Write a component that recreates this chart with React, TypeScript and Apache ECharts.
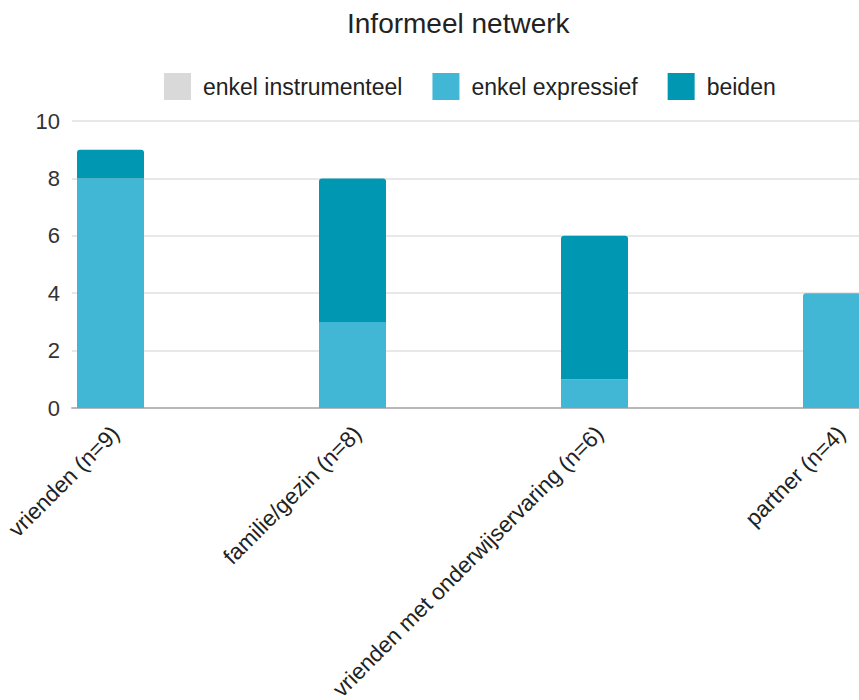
import React, { useEffect, useRef } from 'react';
import * as echarts from 'echarts';

const categories = [
  'vrienden (n=9)',
  'familie/gezin (n=8)',
  'vrienden met onderwijservaring (n=6)',
  'partner (n=4)',
];
const seriesNames = ['enkel instrumenteel', 'enkel expressief', 'beiden'];
const instrumenteel = [0, 0, 0, 0];
const expressief = [8, 3, 1, 4];
const beiden = [1, 5, 5, 0];
const yMin = 0;
const yMax = 10;
const yStep = 2;

const FONT = '"Liberation Sans", Arial, Helvetica, sans-serif';
const COLORS = ['#d9d9d9', '#42b7d5', '#0097b2'];

export default function App() {
  const ref = useRef<HTMLDivElement>(null);
  useEffect(() => {
    if (!ref.current) return;
    const chart = echarts.init(ref.current, null, { renderer: 'svg' });
    const W = 859;
    const frameLeft = 72;
    const top = 121;
    const bottom = 292;
    const band = 242;
    const firstCenter = 110.5;
    const barLeft = firstCenter - band / 2;
    const barWidthTotal = band * categories.length;
    const labelShift = 5;

    const radiusTop = [3, 3, 0, 0];
    chart.setOption({
      animation: false,
      backgroundColor: '#ffffff',
      textStyle: { fontFamily: FONT },
      title: {
        text: 'Informeel netwerk',
        left: 347,
        top: 9,
        padding: 0,
        textStyle: { fontFamily: FONT, fontSize: 28, fontWeight: 'normal', color: '#222222' },
      },
      legend: {
        data: seriesNames,
        left: 164,
        top: 73,
        padding: 0,
        icon: 'rect',
        itemWidth: 27,
        itemHeight: 27,
        itemGap: 30,
        textStyle: { fontFamily: FONT, fontSize: 23, color: '#222222', padding: [0, 0, 0, 7] },
      },
      grid: [
        { left: frameLeft, width: W - frameLeft + 2, top, bottom, outerBoundsMode: 'none', containLabel: false },
        { left: barLeft, width: barWidthTotal, top, bottom, outerBoundsMode: 'none', containLabel: false },
        { left: barLeft + labelShift, width: barWidthTotal, top, bottom, outerBoundsMode: 'none', containLabel: false },
      ],
      xAxis: [
        {
          gridIndex: 0,
          type: 'value',
          min: 0,
          max: 1,
          axisLine: { show: true, onZero: false, lineStyle: { color: '#b8b8b8', width: 2 } },
          axisTick: { show: false },
          axisLabel: { show: false },
          splitLine: { show: false },
        },
        {
          gridIndex: 1,
          type: 'category',
          data: categories,
          axisLine: { show: false },
          axisTick: { show: false },
          axisLabel: { show: false },
        },
        {
          gridIndex: 2,
          type: 'category',
          data: categories,
          axisLine: { show: false },
          axisTick: { show: false },
          axisLabel: {
            rotate: 45,
            margin: 22,
            fontFamily: FONT,
            fontSize: 22.5,
            color: '#222222',
            interval: 0,
          },
        },
      ],
      yAxis: [
        {
          gridIndex: 0,
          type: 'value',
          min: yMin,
          max: yMax,
          interval: yStep,
          axisLine: { show: false },
          axisTick: { show: false },
          axisLabel: { margin: 12, fontFamily: FONT, fontSize: 22, color: '#333333' },
          splitLine: { show: true, lineStyle: { color: '#e0e0e0', width: 1.5 } },
        },
        { gridIndex: 1, type: 'value', min: yMin, max: yMax, show: false, splitLine: { show: false } },
        { gridIndex: 2, type: 'value', min: yMin, max: yMax, show: false, splitLine: { show: false } },
      ],
      series: [
        {
          name: seriesNames[0],
          type: 'bar',
          stack: 'total',
          xAxisIndex: 1,
          yAxisIndex: 1,
          barWidth: 67,
          itemStyle: { color: COLORS[0] },
          data: instrumenteel,
        },
        {
          name: seriesNames[1],
          type: 'bar',
          stack: 'total',
          xAxisIndex: 1,
          yAxisIndex: 1,
          barWidth: 67,
          itemStyle: { color: COLORS[1] },
          data: expressief.map((v, i) => ({
            value: v,
            itemStyle: { borderRadius: beiden[i] === 0 ? radiusTop : 0 },
          })),
        },
        {
          name: seriesNames[2],
          type: 'bar',
          stack: 'total',
          xAxisIndex: 1,
          yAxisIndex: 1,
          barWidth: 67,
          itemStyle: { color: COLORS[2], borderRadius: radiusTop },
          data: beiden,
        },
      ],
    });
    return () => chart.dispose();
  }, []);
  return (
    <div
      ref={ref}
      style={{ position: 'fixed', left: 0, top: 0, width: 859, height: 700, background: '#fff' }}
    />
  );
}
